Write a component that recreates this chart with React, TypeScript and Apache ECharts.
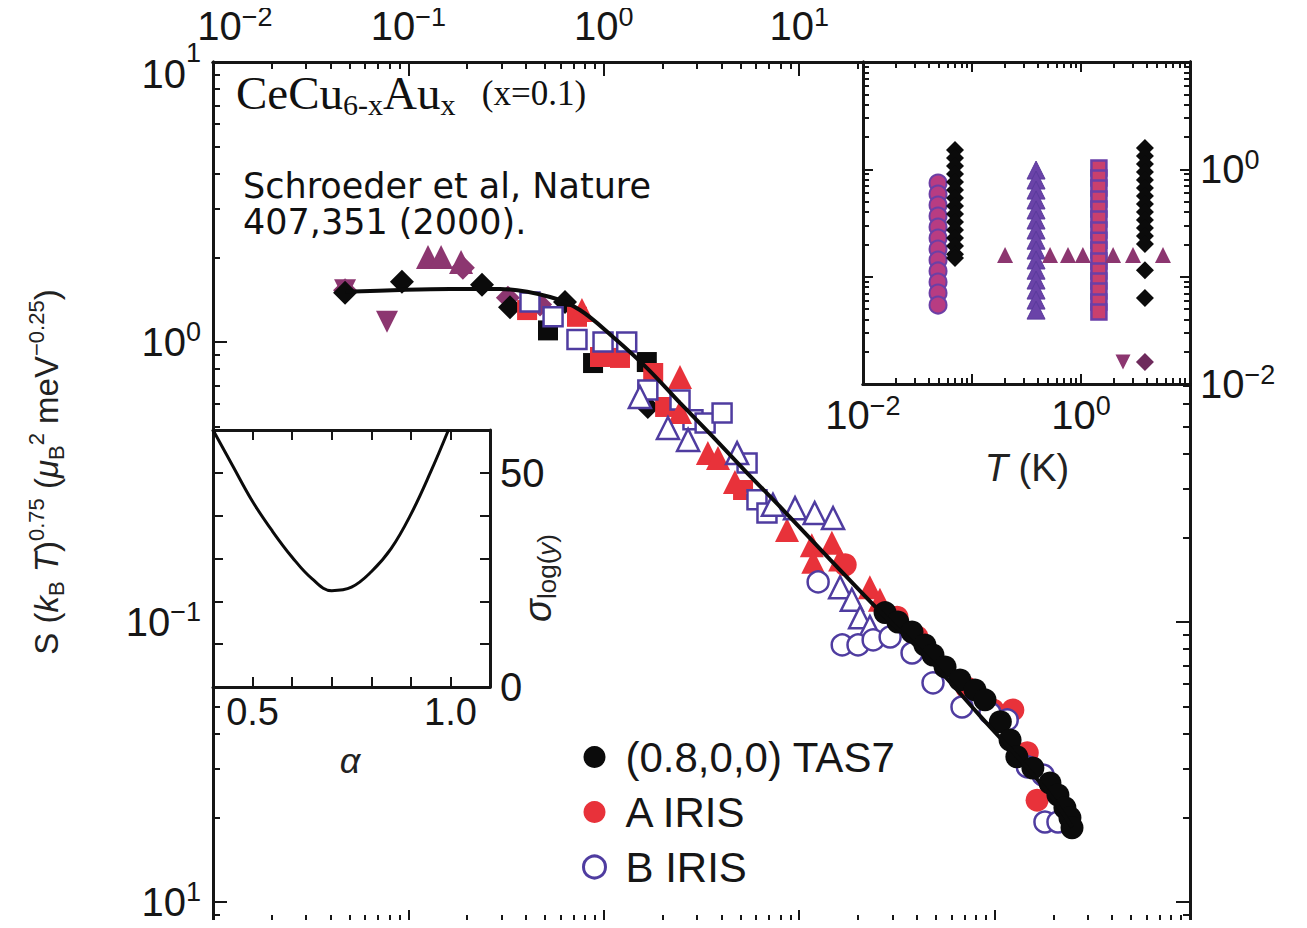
import React, { useEffect, useRef } from "react";
import * as echarts from "echarts";

const SANS = "'Liberation Sans', Arial, Helvetica, sans-serif";
const SERIF = "'Liberation Serif', 'Times New Roman', serif";
const HAND = "'DejaVu Sans', sans-serif";
const INK = "#161616";
const BLACK = "#0b0b0b";
const RED = "#e8323a";
const VIOLET = "#4f3ca0";
const PLUM = "#8c3670";

// ---------- main panel: S (kB T)^0.75 against E / kB T ----------
const FIT_X = [0.0474, 0.0906, 0.163, 0.294, 0.531, 0.755, 1.115, 1.664, 2.455, 3.622, 5.406, 7.976, 14.4, 25.9, 46.7, 84.2, 135, 192, 249];
const FIT_Y = [1.51, 1.534, 1.546, 1.546, 1.448, 1.301, 1.042, 0.807, 0.606, 0.458, 0.341, 0.258, 0.167, 0.109, 0.0731, 0.0462, 0.0322, 0.0241, 0.0185];

const TAS7_X = [27.5, 32.0, 37.8, 44.0, 48.4, 55.8, 66.5, 79.4, 89.3, 107, 120, 130, 157, 192, 211, 229, 243, 249];
const TAS7_Y = [0.108, 0.1, 0.0921, 0.0828, 0.0762, 0.0691, 0.0621, 0.0572, 0.0527, 0.044, 0.0379, 0.033, 0.0301, 0.0266, 0.0241, 0.0217, 0.02, 0.0184];

const IRIS_A_X = [17.2, 31.7, 40.1, 72.2, 98.1, 124, 147, 165];
const IRIS_A_Y = [0.16, 0.104, 0.0884, 0.0581, 0.0485, 0.0485, 0.0341, 0.0231];

const IRIS_B_X = [12.5, 16.6, 20.0, 23.9, 29.2, 37.8, 48.4, 68.1, 94.7, 116, 147, 177, 181, 211];
const IRIS_B_Y = [0.139, 0.0828, 0.0828, 0.0863, 0.0884, 0.0775, 0.0606, 0.0497, 0.0473, 0.0447, 0.0304, 0.0284, 0.0193, 0.0193];

const BLACK_DIAMOND_X = [0.0474, 0.0927, 0.238, 0.331, 0.633, 1.68];
const BLACK_DIAMOND_Y = [1.5, 1.64, 1.6, 1.33, 1.39, 0.586];

const PLUM_DIAMOND_X = [0.0474, 0.19, 0.323, 0.472];
const PLUM_DIAMOND_Y = [1.53, 1.84, 1.44, 1.36];

const PLUM_UP_X = [0.126, 0.147, 0.186];
const PLUM_UP_Y = [2.01, 2.01, 1.93];

const PLUM_DOWN_X = [0.0474, 0.0777];
const PLUM_DOWN_Y = [1.53, 1.18];

const BLACK_SQUARE_X = [0.518, 0.881, 1.66];
const BLACK_SQUARE_Y = [1.1, 0.841, 0.848];

const RED_SQUARE_X = [0.405, 0.729, 0.956, 1.21, 1.79, 2.06, 5.16];
const RED_SQUARE_Y = [1.3, 1.23, 0.884, 0.877, 0.775, 0.586, 0.296];

const OPEN_SQUARE_X = [0.419, 0.55, 0.729, 0.991, 1.31, 1.68, 2.455, 2.86, 3.3, 4.03, 5.41, 6.08, 6.84];
const OPEN_SQUARE_Y = [1.39, 1.23, 1.02, 1.0, 1.0, 0.674, 0.621, 0.527, 0.514, 0.558, 0.37, 0.273, 0.245];

const RED_TRI_X = [0.773, 2.455, 2.455, 3.41, 3.84, 4.69, 8.66, 11.6, 14.7, 16.2, 11.8, 23.0, 25.9];
const RED_TRI_Y = [1.3, 0.75, 0.562, 0.401, 0.385, 0.316, 0.213, 0.188, 0.192, 0.167, 0.164, 0.133, 0.12];

const OPEN_TRI_X = [1.53, 2.13, 2.7, 4.81, 7.34, 9.52, 12.0, 14.9, 16.2, 18.6, 20.5, 23.0];
const OPEN_TRI_Y = [0.636, 0.493, 0.447, 0.401, 0.262, 0.255, 0.245, 0.235, 0.133, 0.12, 0.104, 0.096];

// tick labels of the main panel (exponent position, superscript text)
const MAIN_X_EXP = [-2, -1, 0, 1];
const MAIN_X_SUP = ["\u22122", "\u22121", "0", "1"];
const MAIN_Y_EXP = [1, 0, -1, -2];
const MAIN_Y_SUP = ["1", "0", "\u22121", "1"];

// ---------- upper-right inset: scans against T (K) ----------
const IN_CIRCLE_T = 0.0488;
const IN_CIRCLE_S = [0.745, 0.589, 0.465, 0.367, 0.29, 0.229, 0.181, 0.143, 0.113, 0.0891, 0.0703, 0.0544];
const IN_DIAMOND_A_T = 0.0698;
const IN_DIAMOND_A_S = [1.513, 1.274, 1.073, 0.904, 0.761, 0.641, 0.54, 0.455, 0.383, 0.323, 0.272, 0.229, 0.193, 0.162, 0.149];
const IN_TRI_T = 0.387;
const IN_TRI_S = [0.985, 0.795, 0.641, 0.518, 0.418, 0.337, 0.272, 0.219, 0.177, 0.143, 0.115, 0.093, 0.075, 0.0605, 0.0488];
const IN_SQUARE_T = 1.46;
const IN_SQUARE_S = [1.03, 0.83, 0.669, 0.529, 0.427, 0.344, 0.272, 0.219, 0.177, 0.14, 0.113, 0.091, 0.0734, 0.058, 0.0468];
const IN_DIAMOND_B_T = 3.86;
const IN_DIAMOND_B_S = [1.579, 1.33, 1.121, 0.944, 0.795, 0.669, 0.564, 0.475, 0.4, 0.337, 0.284, 0.239, 0.201, 0.115, 0.0632];
const IN_ROW_T = [0.201, 0.52, 0.76, 1.04, 1.97, 3.0, 5.65];
const IN_ROW_S = 0.159;
const IN_LOW_DOWN = [2.43, 0.016];
const IN_LOW_DIAMOND = [3.86, 0.016];

const INSET_T_EXP = [-2, 0];
const INSET_T_SUP = ["\u22122", "0"];
const INSET_S_EXP = [0, -2];
const INSET_S_SUP = ["0", "\u22122"];

// ---------- lower-left inset: sigma_log(y) against alpha ----------
const ALPHA = [0.4, 0.45, 0.5, 0.55, 0.6, 0.65, 0.7, 0.75, 0.8, 0.85, 0.9, 0.95, 0.995];
const SIGMA = [60, 51.6, 43.3, 36.4, 30.3, 25.3, 22.5, 23.3, 26.9, 32.3, 40.3, 50.2, 60];
const ALPHA_TICKS = [0.5, 0.6, 0.7, 0.8, 0.9, 1.0];
const ALPHA_LABELS = [0.5, 1.0];
const SIGMA_TICKS = [10, 20, 30, 40, 50];
const SIGMA_LABELS = [0, 50];

const lg = Math.log10;
const pts = (xs: number[], ys: number[]) => xs.map((x, i) => [lg(x), lg(ys[i])]);
const column = (x: number, ys: number[]) => ys.map((y) => [lg(x), lg(y)]);
const row = (xs: number[], y: number) => xs.map((x) => [lg(x), lg(y)]);

function decadeTicks(lo: number, hi: number, keep: (v: number) => boolean = () => true) {
  const major: number[] = [];
  const minor: number[] = [];
  for (let n = Math.floor(lo); n <= Math.ceil(hi); n++) {
    if (n > lo + 1e-6 && n < hi - 1e-6 && keep(n)) major.push(n);
    for (let k = 2; k <= 9; k++) {
      const v = n + lg(k);
      if (v > lo + 1e-6 && v < hi - 1e-6 && keep(v)) minor.push(v);
    }
  }
  return { major, minor };
}

const baseStyle = { fontSize: 40, fontFamily: SANS, color: INK, lineHeight: 46 };
const powerRich = {
  b: baseStyle,
  // first top label sits a little right of its tick
  bx: { ...baseStyle, padding: [0, 0, 0, 44] },
  // topmost left label sits a little below its tick
  by: { ...baseStyle, padding: [24, 0, 0, 0] },
  s: { fontSize: 27, fontFamily: SANS, color: INK, lineHeight: 27, verticalAlign: "top" },
};

function powerFormatter(exps: number[], sups: string[], shifted: { [i: number]: string } = {}) {
  return (v: number) => {
    const i = exps.findIndex((e) => Math.abs(e - v) < 1e-6);
    if (i < 0) return "";
    const base = shifted[i] || "b";
    return `{${base}|10}{s|${sups[i]}}`;
  };
}

type AxisSpec = {
  grid: number;
  pos: string;
  min: number;
  max: number;
  ticks: number[];
  len: number;
  inside?: boolean;
  labels?: number[];
  fmt?: (v: number) => string;
  rich?: any;
  margin?: number;
  fontSize?: number;
};

function axis(s: AxisSpec) {
  return {
    type: "value",
    gridIndex: s.grid,
    position: s.pos,
    min: s.min,
    max: s.max,
    axisLine: { show: true, onZero: false, lineStyle: { color: INK, width: 3 } },
    axisTick: {
      show: s.ticks.length > 0,
      inside: s.inside !== false,
      length: s.len,
      customValues: s.ticks,
      lineStyle: { color: INK, width: 2 },
    },
    axisLabel: s.labels
      ? {
          show: true,
          customValues: s.labels,
          formatter: s.fmt,
          rich: s.rich,
          margin: s.margin ?? 10,
          color: INK,
          fontFamily: SANS,
          fontSize: s.fontSize ?? 38,
        }
      : { show: false },
    splitLine: { show: false },
    axisPointer: { show: false },
  };
}

function scatter(
  name: string,
  data: number[][],
  symbol: string,
  size: number,
  fill: string,
  stroke: string,
  borderWidth: number,
  xAxisIndex: number,
  yAxisIndex: number,
  z: number,
  rotate = 0
) {
  return {
    type: "scatter",
    name,
    data,
    symbol,
    symbolSize: size,
    symbolRotate: rotate,
    xAxisIndex,
    yAxisIndex,
    z,
    itemStyle: { color: fill, borderColor: stroke, borderWidth, opacity: 1 },
    emphasis: { disabled: true },
    silent: true,
  };
}

function buildOption() {
  const MX: [number, number] = [-2, 3];
  const MY: [number, number] = [lg(0.00848), 1];
  const insetLeft = -2 + (863 - 213) / 195.4; // where the T(K) inset begins on the main x scale
  const alphaTop = -0.3143;
  const alphaBottom = -1.2321;
  const insetBottom = -0.15;

  const topT = decadeTicks(MX[0], MX[1], (v) => v < insetLeft);
  const bottomT = decadeTicks(MX[0], MX[1]);
  const leftT = decadeTicks(MY[0], MY[1], (v) => v > alphaTop || v < alphaBottom);
  const rightT = decadeTicks(MY[0], MY[1], (v) => v < insetBottom);
  const inT = decadeTicks(-2, 1);

  const xAxis = [
    // 0..4 main panel
    axis({ grid: 0, pos: "top", min: MX[0], max: MX[1], ticks: topT.major, len: 14, labels: MAIN_X_EXP, fmt: powerFormatter(MAIN_X_EXP, MAIN_X_SUP, { 0: "bx" }), rich: powerRich, margin: 13 }),
    axis({ grid: 0, pos: "top", min: MX[0], max: MX[1], ticks: topT.minor, len: 7 }),
    axis({ grid: 0, pos: "bottom", min: MX[0], max: MX[1], ticks: bottomT.major, len: 12 }),
    axis({ grid: 0, pos: "bottom", min: MX[0], max: MX[1], ticks: bottomT.minor, len: 7 }),
    axis({ grid: 0, pos: "bottom", min: MX[0], max: MX[1], ticks: [...bottomT.major, ...bottomT.minor], len: 6, inside: false }),
    // 5..8 T(K) inset
    axis({ grid: 1, pos: "bottom", min: -2, max: 1, ticks: inT.major, len: 10, labels: INSET_T_EXP, fmt: powerFormatter(INSET_T_EXP, INSET_T_SUP), rich: powerRich, margin: 8 }),
    axis({ grid: 1, pos: "bottom", min: -2, max: 1, ticks: inT.minor, len: 6 }),
    axis({ grid: 1, pos: "top", min: -2, max: 1, ticks: inT.major, len: 10 }),
    axis({ grid: 1, pos: "top", min: -2, max: 1, ticks: inT.minor, len: 6 }),
    // 9..10 alpha inset
    axis({ grid: 2, pos: "bottom", min: 0.4, max: 1.1, ticks: ALPHA_TICKS, len: 10, labels: ALPHA_LABELS, fmt: (v: number) => v.toFixed(1), margin: 6, fontSize: 38 }),
    axis({ grid: 2, pos: "top", min: 0.4, max: 1.1, ticks: ALPHA_TICKS, len: 10 }),
  ];

  const yAxis = [
    // 0..3 main panel
    axis({ grid: 0, pos: "left", min: MY[0], max: MY[1], ticks: leftT.major, len: 14, labels: MAIN_Y_EXP, fmt: powerFormatter(MAIN_Y_EXP, MAIN_Y_SUP, { 0: "by" }), rich: powerRich, margin: 12 }),
    axis({ grid: 0, pos: "left", min: MY[0], max: MY[1], ticks: leftT.minor, len: 7 }),
    axis({ grid: 0, pos: "right", min: MY[0], max: MY[1], ticks: rightT.major, len: 14 }),
    axis({ grid: 0, pos: "right", min: MY[0], max: MY[1], ticks: rightT.minor, len: 7 }),
    // 4..7 T(K) inset
    axis({ grid: 1, pos: "right", min: -2, max: 1, ticks: inT.major, len: 10, labels: INSET_S_EXP, fmt: powerFormatter(INSET_S_EXP, INSET_S_SUP), rich: powerRich, margin: 10 }),
    axis({ grid: 1, pos: "right", min: -2, max: 1, ticks: inT.minor, len: 6 }),
    axis({ grid: 1, pos: "left", min: -2, max: 1, ticks: inT.major, len: 10 }),
    axis({ grid: 1, pos: "left", min: -2, max: 1, ticks: inT.minor, len: 6 }),
    // 8..9 alpha inset
    axis({ grid: 2, pos: "right", min: 0, max: 60, ticks: SIGMA_TICKS, len: 10, labels: SIGMA_LABELS, fmt: (v: number) => String(v), margin: 10, fontSize: 40 }),
    axis({ grid: 2, pos: "left", min: 0, max: 60, ticks: SIGMA_TICKS, len: 10 }),
  ];

  const series: any[] = [
    // main panel markers
    scatter("plum down-triangles", pts(PLUM_DOWN_X, PLUM_DOWN_Y), "triangle", 22, PLUM, PLUM, 0, 0, 0, 3, 180),
    scatter("plum diamonds", pts(PLUM_DIAMOND_X, PLUM_DIAMOND_Y), "diamond", 24, PLUM, PLUM, 0, 0, 0, 3),
    scatter("plum triangles", pts(PLUM_UP_X, PLUM_UP_Y), "triangle", 24, PLUM, PLUM, 0, 0, 0, 3),
    scatter("black diamonds", pts(BLACK_DIAMOND_X, BLACK_DIAMOND_Y), "diamond", 24, BLACK, BLACK, 0, 0, 0, 3),
    scatter("black squares", pts(BLACK_SQUARE_X, BLACK_SQUARE_Y), "rect", 20, BLACK, BLACK, 0, 0, 0, 3),
    scatter("red squares", pts(RED_SQUARE_X, RED_SQUARE_Y), "rect", 20, RED, RED, 0, 0, 0, 3),
    scatter("open squares", pts(OPEN_SQUARE_X, OPEN_SQUARE_Y), "rect", 19, "#ffffff", VIOLET, 2.5, 0, 0, 3),
    scatter("red triangles", pts(RED_TRI_X, RED_TRI_Y), "triangle", 24, RED, RED, 0, 0, 0, 3),
    scatter("open triangles", pts(OPEN_TRI_X, OPEN_TRI_Y), "triangle", 22, "#ffffff", VIOLET, 2.5, 0, 0, 3),
    scatter("A IRIS", pts(IRIS_A_X, IRIS_A_Y), "circle", 23, RED, RED, 0, 0, 0, 3),
    scatter("B IRIS", pts(IRIS_B_X, IRIS_B_Y), "circle", 21, "#ffffff", VIOLET, 2.5, 0, 0, 3),
    scatter("(0.8,0,0) TAS7", pts(TAS7_X, TAS7_Y), "circle", 23, BLACK, BLACK, 0, 0, 0, 3),
    {
      type: "line",
      name: "scaling fit",
      data: pts(FIT_X, FIT_Y),
      xAxisIndex: 0,
      yAxisIndex: 0,
      smooth: 0.35,
      symbol: "none",
      lineStyle: { color: BLACK, width: 4 },
      z: 5,
      silent: true,
    },
    // T(K) inset markers
    scatter("inset circles", column(IN_CIRCLE_T, IN_CIRCLE_S), "circle", 17, "#b83c82", "#6c3fa6", 2, 5, 4, 3),
    scatter("inset diamonds a", column(IN_DIAMOND_A_T, IN_DIAMOND_A_S), "diamond", 18, BLACK, BLACK, 0, 5, 4, 3),
    scatter("inset triangles", column(IN_TRI_T, IN_TRI_S), "triangle", 18, "#6a43a8", "#5a3a9c", 1, 5, 4, 3),
    scatter("inset squares", column(IN_SQUARE_T, IN_SQUARE_S), "rect", 15, "#c9406e", "#6a3fa8", 2.5, 5, 4, 3),
    scatter("inset diamonds b", column(IN_DIAMOND_B_T, IN_DIAMOND_B_S), "diamond", 18, BLACK, BLACK, 0, 5, 4, 3),
    scatter("inset row", row(IN_ROW_T, IN_ROW_S), "triangle", 16, PLUM, PLUM, 0, 5, 4, 4),
    scatter("inset low down-triangle", [[lg(IN_LOW_DOWN[0]), lg(IN_LOW_DOWN[1])]], "triangle", 15, PLUM, PLUM, 0, 5, 4, 3, 180),
    scatter("inset low diamond", [[lg(IN_LOW_DIAMOND[0]), lg(IN_LOW_DIAMOND[1])]], "diamond", 18, "#6e2a5c", "#6e2a5c", 0, 5, 4, 3),
    // alpha inset curve
    {
      type: "line",
      name: "sigma",
      data: ALPHA.map((a, i) => [a, SIGMA[i]]),
      xAxisIndex: 9,
      yAxisIndex: 8,
      smooth: 0.4,
      symbol: "none",
      clip: true,
      lineStyle: { color: BLACK, width: 3 },
      z: 3,
      silent: true,
    },
  ];

  const grid = [
    { left: 213, top: 62, width: 977, height: 860, containLabel: false, outerBoundsMode: "none" },
    { left: 863, top: 62, width: 327, height: 322, containLabel: false, outerBoundsMode: "none" },
    { left: 213, top: 430, width: 277, height: 257, containLabel: false, outerBoundsMode: "none" },
  ];

  const legend = {
    data: [
      { name: "(0.8,0,0) TAS7", icon: "circle", itemStyle: { color: BLACK, borderWidth: 0 } },
      { name: "A IRIS", icon: "circle", itemStyle: { color: RED, borderWidth: 0 } },
      { name: "B IRIS", icon: "circle", itemStyle: { color: "#ffffff", borderColor: VIOLET, borderWidth: 3 } },
    ],
    orient: "vertical",
    left: 577,
    top: 729,
    itemWidth: 40,
    itemHeight: 22,
    itemGap: 9,
    selectedMode: false,
    textStyle: { fontFamily: SANS, fontSize: 42, color: INK, lineHeight: 46, padding: [0, 0, 0, 6] },
  };

  const sub = (size: number, extra: any = {}) => ({ fontSize: size, fontFamily: SANS, lineHeight: size, verticalAlign: "bottom", ...extra });
  const sup = (size: number, extra: any = {}) => ({ fontSize: size, fontFamily: SANS, lineHeight: size, verticalAlign: "top", ...extra });

  const graphic = {
    elements: [
      {
        type: "text",
        x: 236,
        y: 93,
        style: {
          text: "{a|CeCu}{s|6-x}{a|Au}{s|x}{c|   (x=0.1)}",
          align: "left",
          verticalAlign: "middle",
          fill: "#111",
          rich: {
            a: { fontSize: 47, fontFamily: SERIF, lineHeight: 52 },
            s: { fontSize: 30, fontFamily: SERIF, lineHeight: 30, verticalAlign: "bottom" },
            c: { fontSize: 35, fontFamily: SERIF, lineHeight: 52 },
          },
        },
      },
      {
        type: "text",
        x: 243,
        y: 168,
        style: {
          text: "Schroeder et al, Nature\n407,351 (2000).",
          font: `35px ${HAND}`,
          lineHeight: 36,
          fill: "#111",
          align: "left",
          verticalAlign: "top",
        },
      },
      {
        type: "text",
        x: 46,
        y: 472,
        rotation: Math.PI / 2,
        style: {
          text: "{n|S (}{i|k}{sb|B}{i| T}{n|)}{sp|0.75}{n| (}{i|\u03bc}{sb|B}{sp|2}{n| meV}{sp|\u22120.25}{n|)}",
          align: "center",
          verticalAlign: "middle",
          fill: "#222",
          rich: {
            n: { fontSize: 33, fontFamily: SANS, lineHeight: 42 },
            i: { fontSize: 33, fontFamily: SANS, fontStyle: "italic", lineHeight: 42 },
            sb: sub(22),
            sp: sup(22),
          },
        },
      },
      {
        type: "text",
        x: 1027,
        y: 468,
        style: {
          text: "{i|T}{n| (K)}",
          align: "center",
          verticalAlign: "middle",
          fill: "#222",
          rich: {
            i: { fontSize: 38, fontFamily: SANS, fontStyle: "italic" },
            n: { fontSize: 38, fontFamily: SANS },
          },
        },
      },
      {
        type: "text",
        x: 350,
        y: 760,
        style: { text: "\u03b1", font: `italic 36px ${SANS}`, fill: "#222", align: "center", verticalAlign: "middle" },
      },
      {
        type: "text",
        x: 538,
        y: 578,
        rotation: Math.PI / 2,
        style: {
          text: "{i|\u03c3}{sb|log(}{sbi|y}{sb|)}",
          align: "center",
          verticalAlign: "middle",
          fill: "#222",
          rich: {
            i: { fontSize: 38, fontFamily: SANS, fontStyle: "italic", lineHeight: 44 },
            sb: sub(26),
            sbi: sub(26, { fontStyle: "italic" }),
          },
        },
      },
    ],
  };

  return {
    animation: false,
    backgroundColor: "#ffffff",
    grid,
    xAxis,
    yAxis,
    legend,
    series,
    graphic,
    tooltip: { show: false },
  };
}

export default function App() {
  const ref = useRef<HTMLDivElement>(null);
  useEffect(() => {
    if (!ref.current) return;
    const chart = echarts.init(ref.current, undefined, { renderer: "svg" });
    chart.setOption(buildOption() as any);
    return () => chart.dispose();
  }, []);
  // negative margins cancel the page's default 8px body margin
  return (
    <div
      ref={ref}
      style={{ width: 1307, height: 928, margin: "-8px -8px -8px -8px", background: "#ffffff" }}
    />
  );
}
